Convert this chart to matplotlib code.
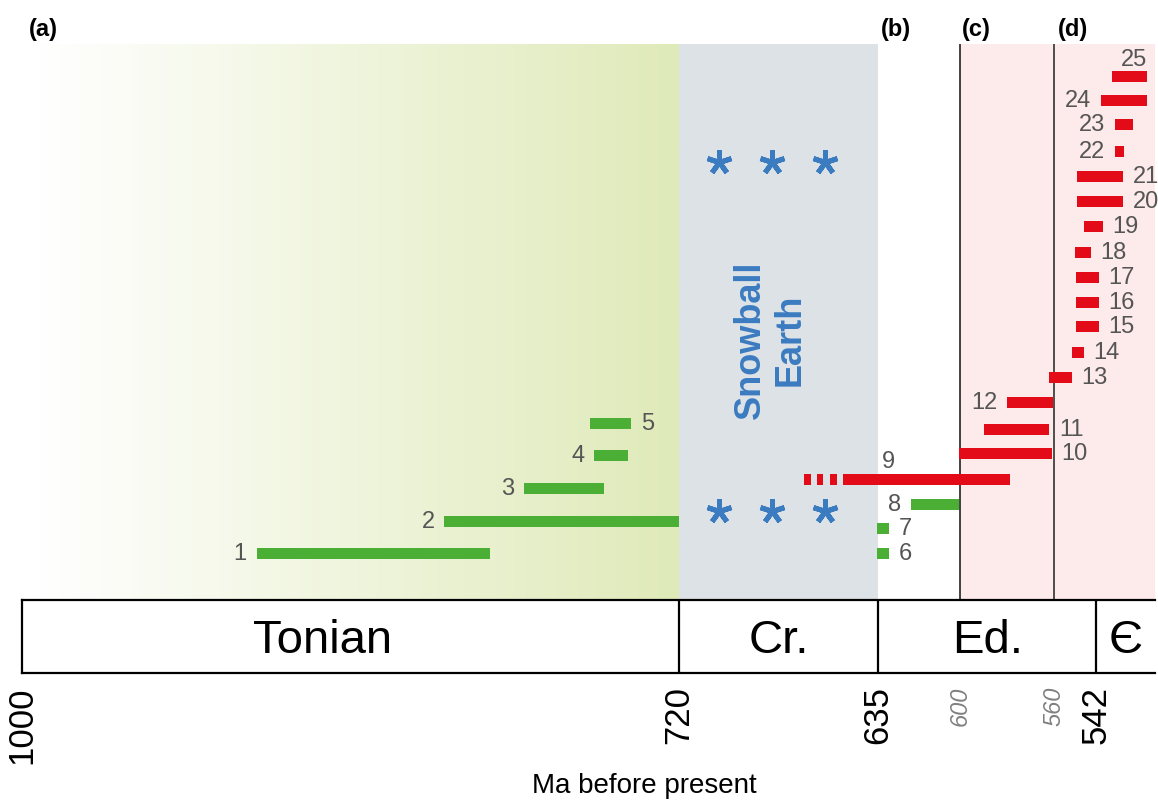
import numpy as np
import matplotlib.pyplot as plt
from matplotlib.colors import LinearSegmentedColormap
from matplotlib.transforms import blended_transform_factory

plt.rcParams['font.family'] = ['Liberation Sans', 'DejaVu Sans']

# ages in Ma (old end, young end); rows are vertical levels
green_ids = [1, 2, 3, 4, 5, 6, 7, 8]
green_old = [900, 820, 786, 756, 758, 635.5, 635.5, 621]
green_young = [800.5, 720, 752, 741.7, 740.4, 630.4, 630.4, 600.6]
green_row = [47, 79, 112, 145, 177, 47, 72, 96]
green_side = ['L', 'L', 'L', 'L', 'R', 'R', 'R', 'L']

red_ids = list(range(9, 26))
red_old = [650, 600.6, 590, 580, 562, 552.4, 550.7, 550.7, 550.7, 551, 547.3,
           550.3, 550.3, 534.1, 534, 540, 535.4]
red_young = [578.9, 561, 562, 560.5, 552.4, 547.3, 541, 541, 541, 544.3, 539.2,
             530.7, 530.7, 530.3, 526.4, 520.5, 520.5]
red_row = [121, 147, 171, 198, 223, 248, 274, 298, 323, 348, 374, 399, 424,
           449, 476, 500, 524]
red_side = ['T', 'R', 'R', 'L', 'R', 'R', 'R', 'R', 'R', 'R', 'R', 'R', 'R',
            'L', 'L', 'L', 'T']
# uncertain older part of record 9
dash9_old = [666.8, 661.1, 655.6]
dash9_young = [663.8, 658.6, 652.6]

star_x = [703, 680.3, 657.7]
star_rows = [438, 89]

periods = ['Tonian', 'Cr.', 'Ed.', 'Є']
period_bounds = [720, 635, 542]
period_label_x = [872, 677.5, 588.5, 529.5]
major_ticks = [1000, 720, 635, 542]
minor_ticks = [600, 560]
panels = ['(a)', '(b)', '(c)', '(d)']
panel_x = [991, 627.4, 593, 552]

GREEN = '#4caf35'
RED = '#e30b17'
BLUE = '#3b7bc0'
LABEL = '#555555'

W, H = 1158, 803
fig = plt.figure(figsize=(W / 100, H / 100), dpi=100)
ax = fig.add_axes([22 / W, (H - 601) / H, 1133 / W, 556 / H])
ax2 = fig.add_axes([22 / W, (H - 674) / H, 1133 / W, 73 / H], sharex=ax)

xmin, xmax = 1000, 517
ymax = 556
ax.set_xlim(xmin, xmax)
ax.set_ylim(0, ymax)
ax.axis('off')

# background shading
cmap = LinearSegmentedColormap.from_list('ton', ['#ffffff', '#dfeab9'])
grad = np.linspace(0, 1, 256).reshape(1, -1)
ax.imshow(grad, cmap=cmap, extent=[993, 720, 0, ymax], aspect='auto', zorder=0)
ax.axvspan(720, 635, color='#dde2e6', lw=0, zorder=0)
ax.axvspan(600, xmax, color='#fdeaea', lw=0, zorder=0)
ax.axvline(600, color='#222222', lw=1.2, zorder=1)
ax.axvline(560, color='#333333', lw=1.2, zorder=1)

bh = 11
ax.barh(green_row, np.array(green_old) - np.array(green_young), left=green_young,
        height=bh, color=GREEN, zorder=3)
ax.barh(red_row, np.array(red_old) - np.array(red_young), left=red_young,
        height=bh, color=RED, zorder=3)
ax.barh([red_row[0]] * 3, np.array(dash9_old) - np.array(dash9_young),
        left=dash9_young, height=bh, color=RED, zorder=3)

top_offsets = {9: (-38, 18), 25: (5, 17)}


def label_bars(ids, olds, youngs, rows, sides):
    for i, o, yg, r, s in zip(ids, olds, youngs, rows, sides):
        if s == 'L':
            ax.annotate(str(i), (o, r), xytext=(-7, 0), textcoords='offset points',
                        ha='right', va='center', fontsize=17, color=LABEL)
        elif s == 'R':
            ax.annotate(str(i), (yg, r), xytext=(7, 0), textcoords='offset points',
                        ha='left', va='center', fontsize=17, color=LABEL)
        else:
            dx, dy = top_offsets[i]
            ax.annotate(str(i), ((o + yg) / 2, r), xytext=(dx * 0.72, dy * 0.72),
                        textcoords='offset points', ha='center', va='center',
                        fontsize=17, color=LABEL)


label_bars(green_ids, green_old, green_young, green_row, green_side)
label_bars(red_ids, red_old, red_young, red_row, red_side)

for r in star_rows:
    ax.plot(star_x, [r] * 3, ls='none', marker=(5, 2, 0), ms=18, mew=3.6,
            color=BLUE, zorder=4)

ax.text(681, 261, 'Snowball\nEarth', rotation=90, ha='center', va='center',
        fontsize=26, fontweight='bold', color=BLUE, linespacing=1.15)

trans = blended_transform_factory(ax.transData, ax.transAxes)
for p, x in zip(panels, panel_x):
    ax.text(x, 1.027, p, transform=trans, ha='center', va='center',
            fontsize=17, fontweight='bold', clip_on=False)

# time scale strip
ax2.set_ylim(0, 1)
for sp in ['top', 'bottom', 'left']:
    ax2.spines[sp].set_linewidth(1.6)
ax2.spines['right'].set_visible(False)
for b in period_bounds:
    ax2.axvline(b, color='black', lw=1.6)
for name, x in zip(periods, period_label_x):
    ax2.text(x, 0.45, name, ha='center', va='center', fontsize=34)
ax2.set_yticks([])
ax2.set_xticks(major_ticks)
ax2.set_xticklabels([str(t) for t in major_ticks], rotation=90, fontsize=25)
ax2.set_xticks(minor_ticks, minor=True)
ax2.set_xticklabels([str(t) for t in minor_ticks], minor=True, rotation=90,
                    fontsize=17, color='#808080', style='italic')
ax2.tick_params(axis='x', which='both', length=0, pad=9)

fig.text(644 / W, 1 - 786 / H, 'Ma before present', ha='center', va='center',
         fontsize=20)

fig.savefig('out.png', dpi=100)
